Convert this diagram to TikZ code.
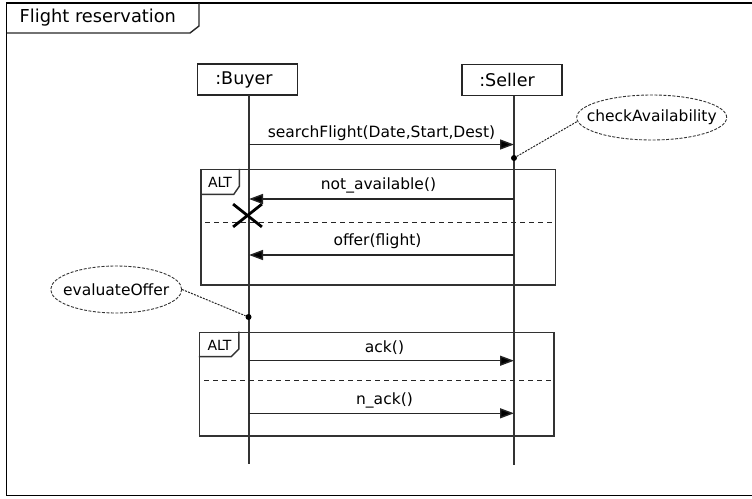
\documentclass[tikz,border=0pt]{standalone}
\usepackage{fontspec}
\setmainfont{DejaVu Sans}
\usetikzlibrary{arrows.meta,shapes.geometric,shapes.misc}
\begin{document}
\begin{tikzpicture}[x=1pt,y=-1pt,
  ln/.style={draw=black!80,line width=1.4pt},
  msg/.style={draw=black!85,line width=1.4pt,-{Triangle[length=14pt,width=10pt,fill=black]}},
  lbl/.style={font=\fontsize{15.5}{18}\selectfont,inner sep=0pt,text depth=0pt},
  head/.style={draw=black!85,line width=1.4pt,minimum width=100pt,minimum height=31pt,inner sep=0pt},
  headtxt/.style={font=\fontsize{17.5}{20}\selectfont,inner sep=0pt},
  note/.style={ellipse,draw=black!80,line width=0.9pt,dash pattern=on 3pt off 1.5pt,inner sep=0pt},
  noteline/.style={draw=black!85,line width=1pt,dash pattern=on 2pt off 1.2pt},
  sepline/.style={draw=black!85,line width=1.4pt,dash pattern=on 5pt off 4pt},
  dotmark/.style={circle,fill=black,inner sep=0pt,minimum size=6pt},
  fragbox/.style={draw=black!80,line width=1.4pt,inner sep=0pt},
  altlbl/.style={font=\fontsize{14}{16}\selectfont,inner sep=0pt},
  killmark/.style={cross out,draw=black,line width=2.8pt,inner sep=0pt,minimum width=26pt,minimum height=20pt}
]
\useasboundingbox (0,0) rectangle (752,498);
\clip (0,0) rectangle (752,498);

% outer frame
\draw[line width=1.8pt] (760,3) -- (6.5,3) -- (6.5,495.5) -- (760,495.5);
\draw[line width=1.4pt,draw=black!85] (6.5,33) -- (190,33) -- (199,26) -- (199,3);
\node[anchor=west,inner sep=0pt,font=\fontsize{17.8}{21}\selectfont] (title) at (19.5,18) {Flight reservation};

% lifelines
\node[head] (buyer) at (247.5,79.5) {};
\node[headtxt] (buyertxt) at (244,79.5) {:Buyer};
\node[head] (seller) at (512,80) {};
\node[headtxt] (sellertxt) at (507,80) {:Seller};
\coordinate (bTop) at (249,95);
\coordinate (sTop) at (514,96);
\coordinate (bEnd) at (249,464);
\coordinate (sEnd) at (514,465);
\draw[ln] (bTop) -- (bEnd);
\draw[ln] (sTop) -- (sEnd);

% fragments
\node[fragbox,minimum width=354.5pt,minimum height=115.5pt] (alt1) at (378.25,227.25) {};
\draw[fragbox] (alt1.north west) ++(0,25.5) -- ++(33.5,0) -- ++(5.5,-8) -- ++(0,-17.5);
\node[altlbl] (alt1lbl) at (220,182) {ALT};
\node[fragbox,minimum width=354.5pt,minimum height=103.7pt] (alt2) at (376.75,384.15) {};
\draw[fragbox] (alt2.north west) ++(0,25) -- ++(32.5,0) -- ++(7.5,-7.5) -- ++(0,-17.5);
\node[altlbl] (alt2lbl) at (219.5,345) {ALT};

\coordinate (sepA1) at (205,222.7);
\coordinate (sepA2) at (553,222.7);
\draw[sepline] (sepA1) -- (sepA2);
\coordinate (sepB1) at (204,380.7);
\coordinate (sepB2) at (551.7,380.7);
\draw[sepline] (sepB1) -- (sepB2);

% messages
\coordinate (b1) at (249,144.5); \coordinate (s1) at (514,144.5);
\draw[msg] (b1) -- node[lbl,above=6.8pt] {searchFlight(Date,Start,Dest)} (s1);
\coordinate (b2) at (249,199); \coordinate (s2) at (514,199);
\draw[msg] (s2) -- node[lbl,above=9pt,xshift=-3pt] {not\_available()} (b2);
\coordinate (b3) at (249,255); \coordinate (s3) at (514,255);
\draw[msg] (s3) -- node[lbl,above=9pt,xshift=-4pt] {offer(flight)} (b3);
\coordinate (b4) at (249,360.7); \coordinate (s4) at (514,360.7);
\draw[msg] (b4) -- node[lbl,above=8pt,xshift=3pt] {ack()} (s4);
\coordinate (b5) at (249,413.3); \coordinate (s5) at (514,413.3);
\draw[msg] (b5) -- node[lbl,above=8.3pt,xshift=3pt] {n\_ack()} (s5);

% destruction
\node[killmark] (kill) at (247.5,215.5) {};

% notes
\node[dotmark] (d1) at (514,158) {};
\node[note,minimum width=150pt,minimum height=45pt,label={[lbl,text depth=]center:checkAvailability}] (chk) at (651.7,117.5) {};
\draw[noteline] (d1) -- (chk.183);
\node[dotmark] (d2) at (248.5,317) {};
\node[note,minimum width=131pt,minimum height=47pt,label={[lbl,text depth=]center:evaluateOffer}] (eva) at (116.2,289.5) {};
\draw[noteline] (eva.east) -- (d2);
\end{tikzpicture}
\end{document}
